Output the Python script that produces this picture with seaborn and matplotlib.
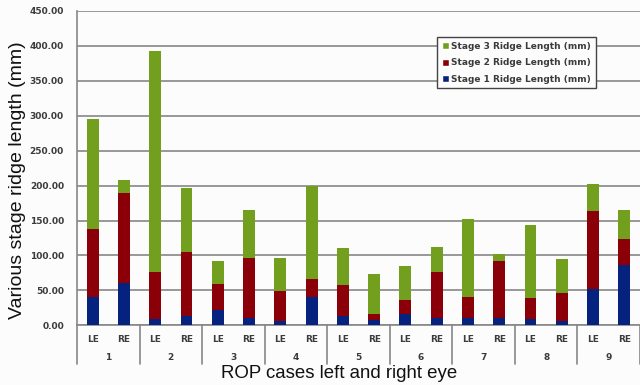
import matplotlib
matplotlib.use("Agg")
import matplotlib.pyplot as plt
import matplotlib.transforms as mtransforms
from matplotlib.patches import Patch
import numpy as np
import pandas as pd
import seaborn as sns

# ROP cases, each measured on the left and right eye
cases = ["1", "2", "3", "4", "5", "6", "7", "8", "9"]
eyes = ["LE", "RE"]

# Ridge length per stage (mm), ordered case1 LE, case1 RE, case2 LE, ...
stage1 = [40.0, 60.0, 9.0, 14.0, 22.0, 11.0, 6.5, 40.5, 13.0,
          8.0, 16.0, 10.0, 11.0, 11.0, 8.5, 6.5, 52.5, 86.0]
stage2 = [98.0, 130.0, 67.0, 90.5, 37.0, 86.0, 42.5, 25.5, 45.0,
          8.0, 20.5, 66.0, 29.5, 81.0, 30.0, 39.5, 110.5, 37.0]
stage3 = [157.0, 18.0, 316.5, 91.5, 33.5, 68.0, 48.0, 134.0, 52.0,
          57.5, 48.0, 36.5, 111.5, 10.0, 105.5, 48.5, 39.0, 42.0]

yticks = [0, 50, 100, 150, 200, 250, 300, 350, 400, 450]

GREEN = "#72a01e"
RED = "#8b0008"
BLUE = "#06227f"
GRID = "#878787"
TXT = "#3b3b3b"

slots = [f"{c} {e}" for c in cases for e in eyes]
df = pd.DataFrame({"slot": slots, "s1": stage1, "s2": stage2, "s3": stage3})
df["top12"] = df["s1"] + df["s2"]
df["top123"] = df["top12"] + df["s3"]

sns.set_style("white")
plt.rcParams["font.family"] = ["DejaVu Sans"]

fig = plt.figure(figsize=(6.4, 3.85), dpi=100, facecolor="#fcfcfc")
ax = fig.add_axes([77 / 640, 1 - 325.3 / 385, 1 - 77 / 640, (325.3 - 11) / 385])
ax.set_facecolor("#fcfcfc")

# stacked columns: draw cumulative totals from the top segment down
bw = 0.38
sns.barplot(data=df, x="slot", y="top123", color=GREEN, width=bw, ax=ax,
            saturation=1, order=slots, errorbar=None, zorder=3)
sns.barplot(data=df, x="slot", y="top12", color=RED, width=bw, ax=ax,
            saturation=1, order=slots, errorbar=None, zorder=3)
sns.barplot(data=df, x="slot", y="s1", color=BLUE, width=bw, ax=ax,
            saturation=1, order=slots, errorbar=None, zorder=3)
for p in ax.patches:
    p.set_edgecolor("none")

ax.set_ylim(0, 450)
ax.set_xlim(-0.5, len(slots) - 0.5)
ax.set_yticks(yticks)
ax.set_yticklabels([f"{v:.2f}" for v in yticks], fontsize=6.5,
                   fontweight="bold", color=TXT)
ax.yaxis.grid(True, color=GRID, linewidth=1.2, zorder=0)
ax.set_axisbelow(True)
ax.tick_params(axis="y", length=0, pad=9.4)
ax.tick_params(axis="x", length=0, pad=0)

for side in ["top", "right"]:
    ax.spines[side].set_visible(False)
for side in ["left", "bottom"]:
    ax.spines[side].set_color(GRID)
    ax.spines[side].set_linewidth(1.2)

# two-level category axis: eye under each bar, case number under each pair
ax.set_xticks(range(len(slots)))
ax.set_xticklabels([])
tr = mtransforms.blended_transform_factory(ax.transData, fig.transFigure)
y_eye = 1 - 339 / 385
y_case = 1 - 358 / 385
for i, s in enumerate(slots):
    ax.text(i, y_eye, s.split()[1], transform=tr, ha="center", va="center",
            fontsize=6.5, fontweight="bold", color=TXT)
for k, c in enumerate(cases):
    ax.text(2 * k + 0.5, y_case, c, transform=tr, ha="center", va="center",
            fontsize=6.5, fontweight="bold", color=TXT)
for k in range(len(cases) + 1):
    x = 2 * k - 0.5
    ax.plot([x, x], [1 - 325.3 / 385, 1 - 364 / 385], transform=tr,
            color=GRID, linewidth=1.2, clip_on=False)

ax.set_xlabel("")
ax.set_ylabel("")
fig.text(17.5 / 640, 1 - 180 / 385, "Various stage ridge length (mm)",
         rotation=90, ha="center", va="center", fontsize=14,
         family="Liberation Sans", color="#111111")
fig.text(339.5 / 640, 1 - 373.5 / 385, "ROP cases left and right eye",
         ha="center", va="center", fontsize=13.4,
         family="Liberation Sans", color="#111111")

handles = [Patch(facecolor=GREEN, label="Stage 3 Ridge Length (mm)"),
           Patch(facecolor=RED, label="Stage 2 Ridge Length (mm)"),
           Patch(facecolor=BLUE, label="Stage 1 Ridge Length (mm)")]
leg = fig.legend(handles=handles, loc="upper left",
                 bbox_to_anchor=(437 / 640, 1 - 37 / 385),
                 bbox_transform=fig.transFigure, frameon=True, fancybox=False,
                 prop={"size": 6.5, "weight": "bold"}, handlelength=0.8,
                 handleheight=0.8, handletextpad=0.3, labelspacing=0.85,
                 borderpad=0.5, borderaxespad=0)
leg.get_frame().set_edgecolor("#444444")
leg.get_frame().set_linewidth(1.0)
leg.get_frame().set_facecolor("#fcfcfc")
leg.get_frame().set_alpha(1)
for t in leg.get_texts():
    t.set_color(TXT)

fig.savefig("out.png", dpi=100, facecolor=fig.get_facecolor())
